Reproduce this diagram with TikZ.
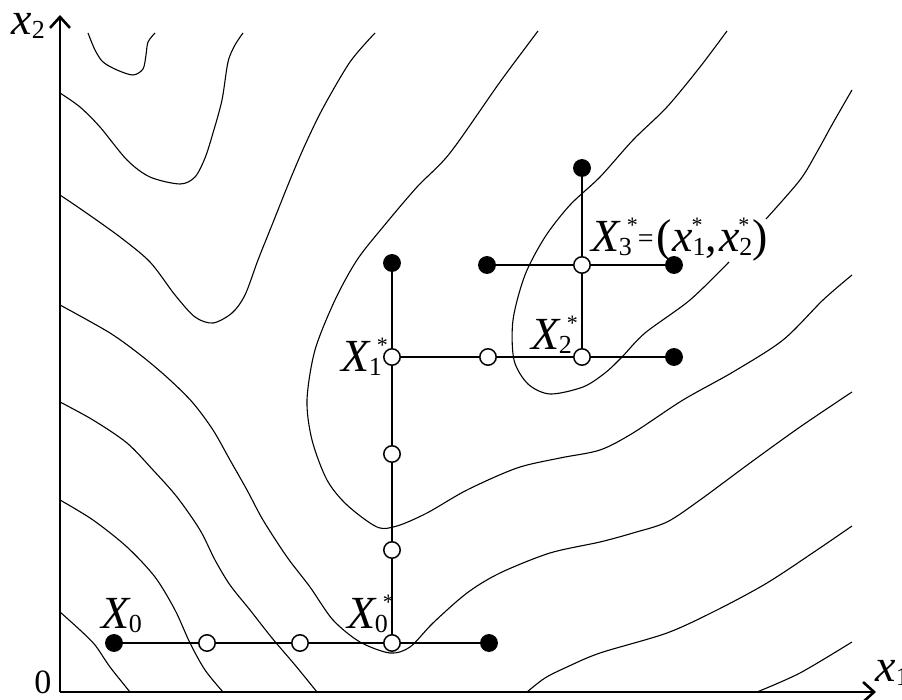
\documentclass[tikz,border=0pt]{standalone}
\usepackage{fontspec}
\setmainfont{Liberation Serif}
\usetikzlibrary{arrows.meta}
\newcommand\Lsub[1]{\raisebox{-2pt}{\fontsize{13}{13}\selectfont #1}}
\newcommand\Lstar{\raisebox{9.5pt}{\fontsize{11}{11}\selectfont *}}
\newcommand\XS[1]{\textit{X}\kern-1pt\rlap{\kern4pt\Lstar}\Lsub{#1}}
\newcommand\xs[1]{\textit{x}\rlap{\kern-0.5pt\Lstar}\Lsub{#1}}
\tikzset{
  contour/.style={line width=0.55pt, line join=round},
  stepline/.style={line width=1.1pt},
  axisline/.style={line width=0.8pt, -{Straight Barb[length=5.5pt,width=10pt,line width=1.3pt]}},
  filled/.style={circle, fill=black, draw=black, line width=0.5pt, inner sep=0pt, minimum size=8.4pt},
  opendot/.style={circle, fill=white, draw=black, line width=0.75pt, inner sep=0pt, minimum size=8.2pt},
  lbl/.style={inner sep=0pt, anchor=base west, font=\fontsize{23}{23}\selectfont},
  zerolbl/.style={inner sep=0pt, anchor=base west, font=\fontsize{17}{17}\selectfont}
}
\begin{document}
\begin{tikzpicture}[x=0.5pt, y=-0.5pt]
\useasboundingbox (0,0) rectangle (902,700);
% axes
\coordinate (O) at (60,692);
\coordinate (ytip) at (60,15);
\coordinate (xtip) at (876,692);
\draw[axisline] (O) -- (ytip);
\draw[axisline] (O) -- (xtip);
\node[lbl] (x2lab) at (11,35) {\textit{x}\Lsub{2}};
\node[lbl] (x1lab) at (875,682) {\textit{x}\Lsub{1}};
\node[zerolbl] (zero) at (34,694) {0};
% contour lines
\draw[contour] plot[smooth] coordinates {(88,33) (95,50) (103,62) (117,70) (133,75) (143,69) (146,55) (148,42) (155,33)};
\draw[contour] plot[smooth] coordinates {(60,93) (80,107) (100,127) (127,160) (150,177) (180,184) (195,177) (205,158) (213,133) (222,100) (228,62) (235,45) (243,33)};
\draw[contour] plot[smooth] coordinates {(60,195) (85,212) (120,237) (150,262) (175,295) (195,317) (213,323) (232,313) (245,295) (258,260) (272,225) (290,180) (305,145) (323,108) (350,62) (375,33)};
\draw[contour] plot[smooth] coordinates {(538,31) (500,82) (450,153) (417,187) (383,227) (357,260) (335,300) (315,350) (307,400) (312,440) (327,480) (347,505) (377,527) (397,526) (427,513) (467,490) (517,468) (560,458) (600,450) (633,433) (683,400) (733,372) (783,340) (823,300) (852,275)};
\draw[contour] plot[smooth] coordinates {(727,31) (700,67) (667,107) (633,140) (600,177) (570,205) (545,237) (525,275) (513,320) (514,360) (528,384) (550,394) (583,387) (605,373) (622,357) (645,333) (690,300) (729,262)};
\draw[contour] plot[smooth] coordinates {(766,219) (800,180) (817,152) (833,123) (852,90)};
\draw[contour] plot[smooth] coordinates {(60,305) (110,333) (143,357) (170,380) (193,403) (213,430) (230,460) (247,490) (263,520) (287,557) (310,587) (333,620) (360,642) (390,653) (410,647) (433,623) (467,593) (500,573) (550,553) (600,542) (633,533) (667,522) (700,500) (750,463) (800,427) (852,392)};
\draw[contour] plot[smooth] coordinates {(60,402) (93,420) (127,443) (153,470) (177,497) (200,530) (215,560) (230,585) (250,610) (272,638) (295,665) (317,692)};
\draw[contour] plot[smooth] coordinates {(60,500) (93,520) (127,547) (155,577) (175,610) (190,643) (205,670) (223,692)};
\draw[contour] plot[smooth] coordinates {(60,612) (80,630) (95,645) (110,667) (130,692)};
\draw[contour] plot[smooth] coordinates {(527,692) (545,678) (567,667) (600,653) (667,633) (717,610) (767,583) (817,550) (852,526)};
\draw[contour] plot[smooth] coordinates {(757,692) (800,673) (852,642)};
% step positions
\coordinate (pX0) at (114,643);
\coordinate (pa1) at (207,643);
\coordinate (pa2) at (300,643);
\coordinate (pX0s) at (392,643);
\coordinate (pr1) at (489,643);
\coordinate (pb1) at (392,550);
\coordinate (pb2) at (392,454);
\coordinate (pX1s) at (392,357);
\coordinate (ptop1) at (392,263);
\coordinate (pc1) at (488,357);
\coordinate (pX2s) at (582,357);
\coordinate (pr2) at (674,357);
\coordinate (pX3s) at (582,265);
\coordinate (pl3) at (487,265);
\coordinate (pr3) at (674,265);
\coordinate (ptop3) at (582,168);
% step lines
\draw[stepline] (pX0) -- (pr1);
\draw[stepline] (pX0s) -- (ptop1);
\draw[stepline] (pX1s) -- (pr2);
\draw[stepline] (pX2s) -- (ptop3);
\draw[stepline] (pl3) -- (pr3);
% points
\node[filled] (X0) at (pX0) {};
\node[opendot] (a1) at (pa1) {};
\node[opendot] (a2) at (pa2) {};
\node[opendot] (X0s) at (pX0s) {};
\node[filled] (r1) at (pr1) {};
\node[opendot] (b1) at (pb1) {};
\node[opendot] (b2) at (pb2) {};
\node[opendot] (X1s) at (pX1s) {};
\node[filled] (top1) at (ptop1) {};
\node[opendot] (c1) at (pc1) {};
\node[opendot] (X2s) at (pX2s) {};
\node[filled] (r2) at (pr2) {};
\node[opendot] (X3s) at (pX3s) {};
\node[filled] (l3) at (pl3) {};
\node[filled] (r3) at (pr3) {};
\node[filled] (top3) at (ptop3) {};
% labels
\node[lbl] (labX0) at (101,629) {\textit{X}\kern-1pt\Lsub{0}};
\node[lbl] (labX0s) at (347,629) {\XS{0}};
\node[lbl] (labX1s) at (341,372) {\XS{1}};
\node[lbl] (labX2s) at (531,350) {\XS{2}};
\node[lbl] (labX3s) at (591,252) {\XS{3}\kern3pt\raisebox{2pt}{\fontsize{14}{14}\selectfont =}\kern1.5pt(\xs{1},\kern1pt\xs{2})};
\end{tikzpicture}
\end{document}
